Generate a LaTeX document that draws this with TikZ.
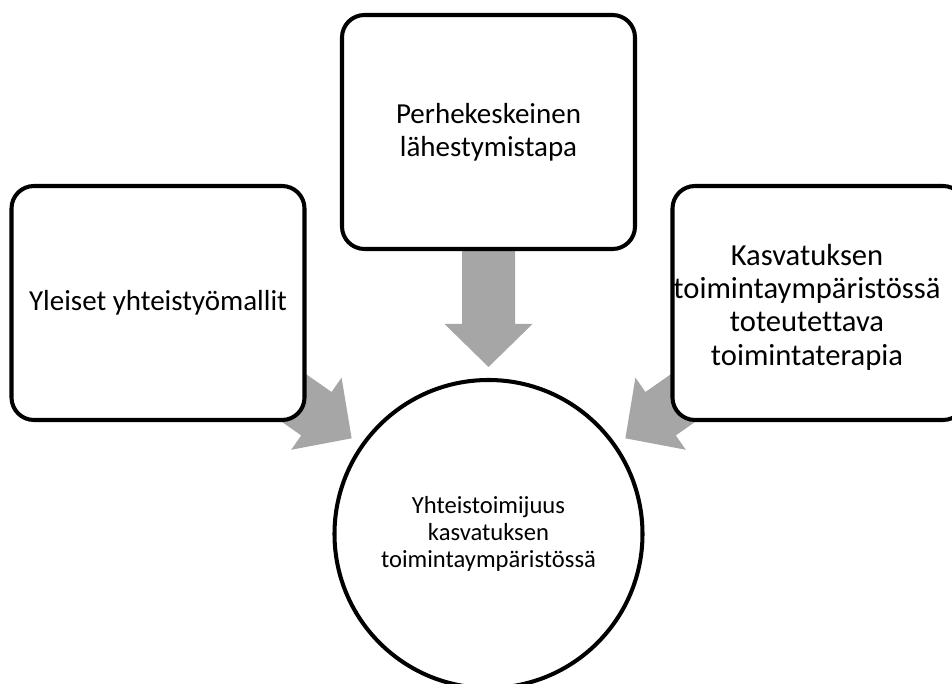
\documentclass[tikz,border=0pt]{standalone}
\usepackage{fontspec}
\setmainfont{Carlito}[Ligatures=NoCommon]
\usetikzlibrary{calc,backgrounds}
\definecolor{arrowgray}{HTML}{A6A6A6}

\begin{document}
\begin{tikzpicture}[
  outerbox/.style={draw,line width=2.3pt,rounded corners=.45cm,fill=white,
    minimum width=5.86cm,minimum height=4.68cm,align=center,
    font=\fontsize{16.5}{18.8}\selectfont},
  hubcircle/.style={draw,circle,line width=2.3pt,fill=white,
    minimum size=6.16cm,align=center,font=\fontsize{14}{15.6}\selectfont}]
  \useasboundingbox (0,0) rectangle (19.04,13.68);

  \node[outerbox] (approach) at (9.77,11.04) {Perhekeskeinen\\lähestymistapa};
  \node[outerbox] (models) at (3.16,7.62) {Yleiset yhteistyömallit};
  \node[outerbox] (therapy) at (16.38,7.62) {};
  \node[align=center,font=\fontsize{17.4}{19}\selectfont] (therapytext)
    at ([xshift=-.24cm,yshift=-.08cm]therapy.center)
    {Kasvatuksen\\toimintaympäristössä\\toteutettava\\toimintaterapia};
  \node[hubcircle] (hub) at (9.77,3.0)
    {Yhteistoimijuus\\kasvatuksen\\toimintaympäristössä};

  % converging arrows, tails hidden under the boxes
  \begin{scope}[on background layer]
    \foreach \src in {models,approach,therapy} {
      \coordinate (tip) at ($(hub.center)!3.34cm!(\src.center)$);
      \coordinate (neck) at ($(hub.center)!4.2cm!(\src.center)$);
      \coordinate (tail) at ($(hub.center)!6cm!(\src.center)$);
      \fill[arrowgray] (tip) -- ($(neck)!.88cm!90:(tip)$) -- ($(neck)!.53cm!90:(tip)$)
        -- ($(tail)!.53cm!90:(tip)$) -- ($(tail)!.53cm!-90:(tip)$)
        -- ($(neck)!.53cm!-90:(tip)$) -- ($(neck)!.88cm!-90:(tip)$) -- cycle;
    }
  \end{scope}
\end{tikzpicture}
\end{document}
